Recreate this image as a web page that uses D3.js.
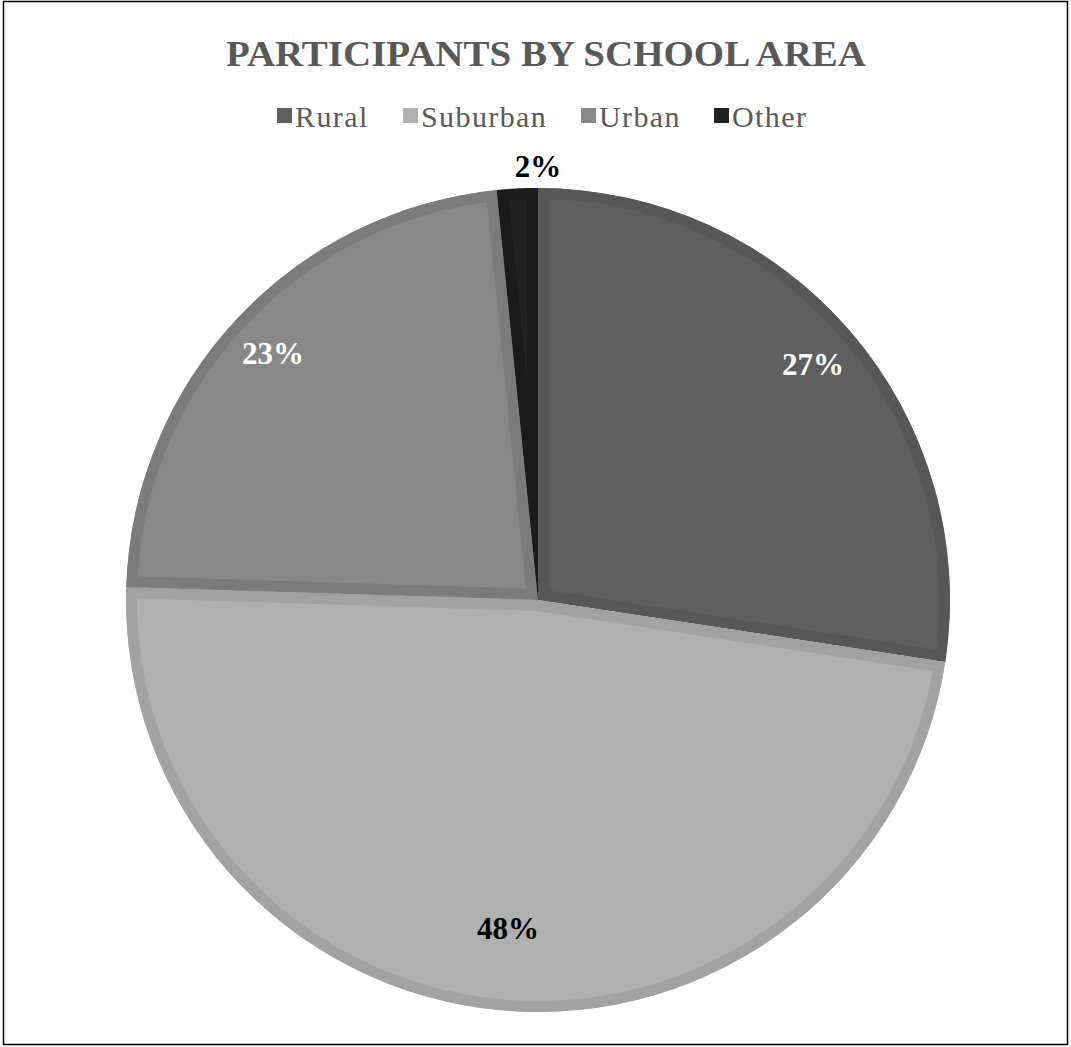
<!DOCTYPE html>
<html>
<head>
<meta charset="utf-8">
<script src="https://cdn.jsdelivr.net/npm/d3@7"></script>
<style>
  html, body { margin: 0; padding: 0; background: #fff; }
  svg { display: block; }
</style>
</head>
<body>
<svg id="chart" width="1071" height="1047"></svg>
<script>
const title = "PARTICIPANTS BY SCHOOL AREA";
const categories = ["Rural", "Suburban", "Urban", "Other"];
const values = [27.4, 48.1, 22.9, 1.6];
const labels = ["27%", "48%", "23%", "2%"];
const fillColors = ["#5f5f5f", "#b0b0b0", "#888888", "#222222"];
const borderColors = ["#575757", "#a2a2a2", "#7b7b7b", "#1b1b1b"];
const labelColors = ["#ffffff", "#000000", "#ffffff", "#000000"];

const W = 1071, H = 1047;
const cx = 538, cy = 600, R = 412;
const serif = "'Liberation Serif', 'Times New Roman', Times, serif";
const svg = d3.select("#chart");

// outer frame
svg.append("rect")
  .attr("x", 3.5).attr("y", 1.5)
  .attr("width", 1064).attr("height", 1043)
  .attr("fill", "none").attr("stroke", "#000").attr("stroke-width", 1.5);

// title
svg.append("text")
  .attr("x", 226).attr("y", 66)
  .attr("text-anchor", "start")
  .attr("font-family", serif)
  .attr("font-weight", "bold")
  .attr("font-size", 36)
  .attr("textLength", 640)
  .attr("lengthAdjust", "spacingAndGlyphs")
  .attr("fill", "#595959")
  .text(title);

// legend
const legendX = [277, 403, 581, 714];
const legend = svg.append("g");
categories.forEach((c, i) => {
  const g = legend.append("g").attr("transform", `translate(${legendX[i]},0)`);
  g.append("rect").attr("x", 0).attr("y", 108).attr("width", 15).attr("height", 15)
    .attr("fill", fillColors[i]);
  g.append("text").attr("x", 18).attr("y", 127)
    .attr("font-family", serif)
    .attr("font-size", 30)
    .attr("letter-spacing", 1.4)
    .attr("fill", "#595959")
    .text(c);
});

const pie = d3.pie().sort(null).value(d => d)(values);
const arc = d3.arc().innerRadius(0).outerRadius(R);
const gPie = svg.append("g").attr("transform", `translate(${cx},${cy})`);
const defs = svg.append("defs");

pie.forEach((d, i) => {
  const p = arc(d);
  defs.append("clipPath").attr("id", "clip" + i).append("path").attr("d", p);
  gPie.append("path")
    .attr("d", p)
    .attr("fill", fillColors[i])
    .attr("stroke", borderColors[i])
    .attr("stroke-width", 22)
    .attr("stroke-linejoin", "miter")
    .attr("clip-path", `url(#clip${i})`);
});

// labels
pie.forEach((d, i) => {
  const share = (d.endAngle - d.startAngle) / (2 * Math.PI);
  let x, y;
  if (share < 0.05) {
    const rr = R + 22;
    x = rr * Math.sin(d.endAngle);
    y = -rr * Math.cos(d.endAngle);
  } else {
    const rr = share > 0.4 ? R * 0.80 : R * 0.88;
    const a = (d.startAngle + d.endAngle) / 2;
    x = rr * Math.sin(a);
    y = -rr * Math.cos(a);
  }
  gPie.append("text")
    .attr("x", x).attr("y", y).attr("dy", "0.35em")
    .attr("text-anchor", "middle")
    .attr("font-family", serif)
    .attr("font-weight", "bold")
    .attr("font-size", 31)
    .attr("fill", labelColors[i])
    .text(labels[i]);
});
</script>
</body>
</html>
